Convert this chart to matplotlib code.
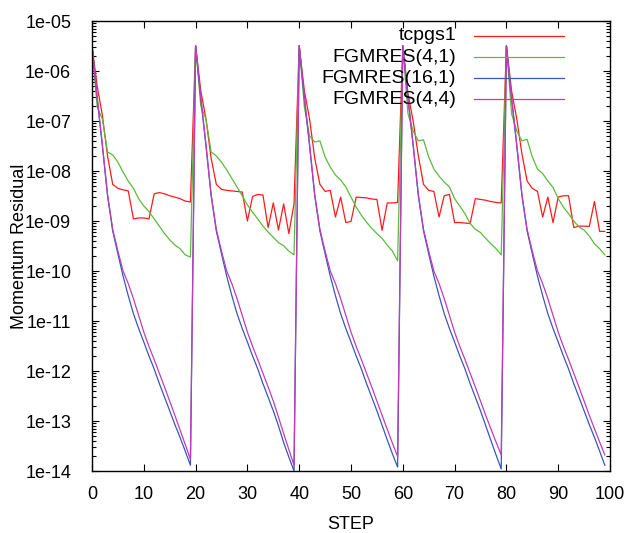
import matplotlib
matplotlib.use("Agg")
import matplotlib.pyplot as plt
import numpy as np

plt.rcParams['font.family'] = ['Liberation Sans', 'DejaVu Sans']

# residual history, one value per step (steps 0..99)
tcpgs1 = [
    3.2e-6, 5.0e-7, 1.3e-7, 2.0e-8, 5.4e-9, 4.5e-9, 4.2e-9, 4.0e-9, 1.1e-9, 1.15e-9,
    1.15e-9, 1.1e-9, 3.5e-9, 3.7e-9, 3.5e-9, 3.2e-9, 3.0e-9, 2.8e-9, 2.5e-9, 2.4e-9,
    3.2e-6, 4.0e-7, 1.1e-7, 1.8e-8, 5.4e-9, 4.3e-9, 4.1e-9, 4.0e-9, 3.9e-9, 3.8e-9,
    1.0e-9, 3.1e-9, 3.4e-9, 3.3e-9, 7.4e-10, 2.3e-9, 6.6e-10, 2.2e-9, 5.6e-10, 2.2e-9,
    3.2e-6, 4.0e-7, 1.1e-7, 1.8e-8, 5.4e-9, 3.9e-9, 4.1e-9, 1.2e-9, 3.0e-9, 9.3e-10,
    9.8e-10, 3.0e-9, 2.95e-9, 2.9e-9, 2.75e-9, 2.7e-9, 6.5e-10, 2.3e-9, 2.3e-9, 2.35e-9,
    3.2e-6, 3.5e-7, 1.0e-7, 2.0e-8, 5.4e-9, 4.1e-9, 3.9e-9, 1.2e-9, 3.2e-9, 3.4e-9,
    9.3e-10, 9.3e-10, 9.1e-10, 8.9e-10, 2.8e-9, 2.7e-9, 2.6e-9, 2.45e-9, 2.35e-9, 2.3e-9,
    3.2e-6, 4.0e-7, 1.1e-7, 2.2e-8, 6.3e-9, 4.5e-9, 3.9e-9, 1.2e-9, 3.0e-9, 9.3e-10,
    3.0e-9, 3.2e-9, 3.2e-9, 7.4e-10, 7.9e-10, 7.9e-10, 7.8e-10, 2.45e-9, 6.2e-10, 6.2e-10,
]
fgmres_4_1 = [
    3.2e-6, 1.9e-7, 1.1e-7, 2.4e-8, 2.1e-8, 1.5e-8, 9.5e-9, 6.3e-9, 4.5e-9, 2.8e-9,
    2.0e-9, 1.55e-9, 1.1e-9, 7.9e-10, 5.6e-10, 4.2e-10, 3.3e-10, 2.8e-10, 2.1e-10, 1.9e-10,
    3.2e-6, 2.0e-7, 1.1e-7, 2.4e-8, 2.0e-8, 1.5e-8, 1.05e-8, 7.1e-9, 4.8e-9, 3.2e-9,
    2.1e-9, 1.5e-9, 1.1e-9, 7.9e-10, 6.0e-10, 4.7e-10, 3.7e-10, 3.2e-10, 2.5e-10, 2.1e-10,
    3.2e-6, 1.9e-7, 5.0e-8, 3.8e-8, 4.0e-8, 1.9e-8, 1.2e-8, 8.3e-9, 6.6e-9, 4.8e-9,
    3.0e-9, 1.9e-9, 1.3e-9, 9.5e-10, 7.1e-10, 5.6e-10, 4.5e-10, 3.3e-10, 2.5e-10, 1.6e-10,
    3.2e-6, 1.4e-7, 6.3e-8, 4.0e-8, 4.2e-8, 1.9e-8, 1.1e-8, 7.9e-9, 6.0e-9, 4.8e-9,
    2.8e-9, 2.0e-9, 1.4e-9, 8.9e-10, 6.8e-10, 5.9e-10, 4.5e-10, 3.5e-10, 2.8e-10, 2.1e-10,
    3.2e-6, 1.4e-7, 6.3e-8, 4.0e-8, 4.3e-8, 1.9e-8, 1.1e-8, 8.9e-9, 6.3e-9, 4.7e-9,
    2.8e-9, 1.9e-9, 1.4e-9, 1.0e-9, 7.6e-10, 6.6e-10, 5.0e-10, 3.5e-10, 2.8e-10, 2.1e-10,
]
fgmres_16_1 = [
    3.2e-6, 2.8e-7, 3.2e-8, 3.2e-9, 6.3e-10, 2.2e-10, 7.9e-11, 3.2e-11, 1.4e-11, 7.1e-12,
    3.8e-12, 2.0e-12, 1.1e-12, 5.6e-13, 3.0e-13, 1.6e-13, 8.5e-14, 4.7e-14, 2.5e-14, 1.3e-14,
    3.2e-6, 2.8e-7, 3.2e-8, 3.2e-9, 6.3e-10, 2.2e-10, 7.9e-11, 3.2e-11, 1.4e-11, 7.1e-12,
    3.8e-12, 2.0e-12, 1.1e-12, 5.6e-13, 3.0e-13, 1.6e-13, 8.0e-14, 3.7e-14, 1.9e-14, 1.0e-14,
    3.2e-6, 2.8e-7, 3.2e-8, 3.2e-9, 6.3e-10, 2.2e-10, 7.9e-11, 3.2e-11, 1.4e-11, 7.1e-12,
    3.8e-12, 2.0e-12, 1.1e-12, 5.6e-13, 3.0e-13, 1.6e-13, 8.2e-14, 4.2e-14, 2.2e-14, 1.2e-14,
    3.2e-6, 2.8e-7, 3.2e-8, 3.2e-9, 6.3e-10, 2.2e-10, 7.9e-11, 3.2e-11, 1.4e-11, 7.1e-12,
    3.8e-12, 2.0e-12, 1.1e-12, 5.6e-13, 3.0e-13, 1.6e-13, 8.1e-14, 4.1e-14, 2.1e-14, 1.1e-14,
    3.2e-6, 2.8e-7, 3.2e-8, 3.2e-9, 6.3e-10, 2.2e-10, 7.9e-11, 3.2e-11, 1.4e-11, 7.1e-12,
    3.8e-12, 2.0e-12, 1.1e-12, 5.6e-13, 3.0e-13, 1.6e-13, 8.5e-14, 4.7e-14, 2.5e-14, 1.3e-14,
]
fgmres_4_4 = [
    3.2e-6, 3.0e-7, 3.4e-8, 3.4e-9, 6.8e-10, 2.5e-10, 1.0e-10, 5.6e-11, 2.8e-11, 1.3e-11,
    6.0e-12, 3.1e-12, 1.7e-12, 9.0e-13, 4.8e-13, 2.5e-13, 1.3e-13, 6.6e-14, 3.4e-14, 1.7e-14,
    3.2e-6, 3.0e-7, 3.4e-8, 3.4e-9, 6.8e-10, 2.5e-10, 1.0e-10, 5.6e-11, 2.8e-11, 1.3e-11,
    6.0e-12, 3.1e-12, 1.7e-12, 9.0e-13, 4.8e-13, 2.5e-13, 1.2e-13, 5.6e-14, 2.7e-14, 1.3e-14,
    3.2e-6, 3.0e-7, 3.4e-8, 3.4e-9, 6.8e-10, 2.5e-10, 1.0e-10, 5.6e-11, 2.8e-11, 1.3e-11,
    6.0e-12, 3.1e-12, 1.7e-12, 9.0e-13, 4.8e-13, 2.5e-13, 1.3e-13, 6.8e-14, 3.6e-14, 1.95e-14,
    3.2e-6, 3.0e-7, 3.4e-8, 3.4e-9, 6.8e-10, 2.5e-10, 1.0e-10, 5.6e-11, 2.8e-11, 1.3e-11,
    6.0e-12, 3.1e-12, 1.7e-12, 9.0e-13, 4.8e-13, 2.5e-13, 1.3e-13, 7.0e-14, 3.8e-14, 2.1e-14,
    3.2e-6, 3.0e-7, 3.4e-8, 3.4e-9, 6.8e-10, 2.5e-10, 1.0e-10, 5.6e-11, 2.8e-11, 1.3e-11,
    6.0e-12, 3.1e-12, 1.7e-12, 9.0e-13, 4.8e-13, 2.5e-13, 1.3e-13, 7.0e-14, 3.8e-14, 2.1e-14,
]
labels = ["tcpgs1", "FGMRES(4,1)", "FGMRES(16,1)", "FGMRES(4,4)"]
colors = ["#ff1a1a", "#5cba3c", "#3a56b8", "#c03cb8"]

xticks = [0, 10, 20, 30, 40, 50, 60, 70, 80, 90, 100]
yticks = [1e-5, 1e-6, 1e-7, 1e-8, 1e-9, 1e-10, 1e-11, 1e-12, 1e-13, 1e-14]
ytick_labels = ["1e-05", "1e-06", "1e-07", "1e-08", "1e-09",
                "1e-10", "1e-11", "1e-12", "1e-13", "1e-14"]

steps = np.arange(len(tcpgs1))

fig = plt.figure(figsize=(6.32, 5.33), dpi=100)
ax = fig.add_axes([92/632, 1 - 471/533, 518/632, 450/533])

for series, col in zip([tcpgs1, fgmres_4_1, fgmres_16_1, fgmres_4_4], colors):
    ax.plot(steps, series, color=col, lw=0.9)

ax.set_yscale("log")
ax.set_xlim(0, 100)
ax.set_ylim(1e-14, 1e-5)
ax.set_xticks(xticks)
ax.set_yticks(yticks)
ax.set_yticklabels(ytick_labels)
ax.yaxis.set_minor_locator(matplotlib.ticker.LogLocator(base=10, subs=np.arange(2, 10), numticks=20))
ax.yaxis.set_minor_formatter(matplotlib.ticker.NullFormatter())

ax.tick_params(which="both", direction="in", top=True, right=True, labelsize=13, width=0.8)
ax.tick_params(which="major", length=5)
ax.tick_params(which="minor", length=3)
ax.tick_params(axis="y", pad=15)
ax.tick_params(axis="x", pad=11)
for sp in ax.spines.values():
    sp.set_linewidth(1.0)

ax.set_xlabel("STEP", fontsize=13)
ax.set_ylabel("Momentum Residual", fontsize=13)
ax.xaxis.set_label_coords(0.5, -0.1)
ax.yaxis.set_label_coords(-0.123, 0.5)

# gnuplot-style key: right-aligned text followed by the line sample
key_rows = [0.967, 0.920, 0.873, 0.826]
for lab, col, ky in zip(labels, colors, key_rows):
    ax.text(0.703, ky, lab, transform=ax.transAxes, ha="right", va="center", fontsize=14)
    ax.plot([0.7375, 0.911], [ky, ky], transform=ax.transAxes, color=col, lw=0.9)

fig.savefig("out.png", dpi=100)
